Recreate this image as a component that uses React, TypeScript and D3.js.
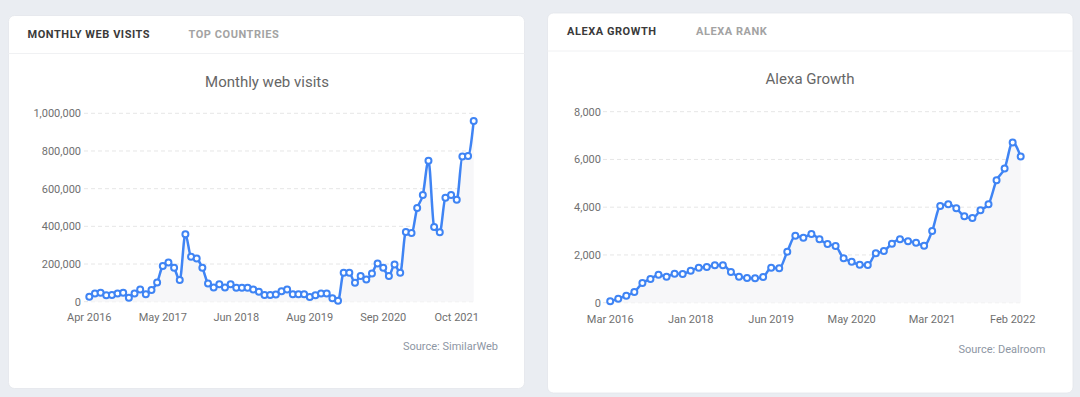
import React, { useEffect, useRef } from 'react';
import * as d3 from 'd3';

// Monthly web visits (SimilarWeb), one value per month from Apr 2016
const visits = [
  26000, 44000, 48000, 34000, 35000, 44000, 48000, 21000, 44000, 65000,
  39000, 62000, 102000, 190000, 208000, 180000, 115000, 358000, 238000, 229000,
  180000, 97000, 76000, 93000, 76000, 92000, 74000, 74000, 74000, 65000,
  53000, 35000, 35000, 38000, 56000, 65000, 39000, 39000, 39000, 25000,
  34000, 44000, 44000, 18000, 5000, 153000, 153000, 100000, 136000, 118000,
  150000, 203000, 180000, 136000, 198000, 153000, 370000, 365000, 497000, 566000,
  748000, 397000, 369000, 552000, 566000, 541000, 771000, 774000, 959000,
];
const visitTickLabels = ['Apr 2016', 'May 2017', 'Jun 2018', 'Aug 2019', 'Sep 2020', 'Oct 2021'];
const visitTickEvery = 13;
const visitYTicks = [0, 200000, 400000, 600000, 800000, 1000000];

// Alexa growth (Dealroom)
const alexa = [
  56, 168, 293, 447, 824, 992, 1173, 1090, 1215, 1201,
  1341, 1467, 1495, 1565, 1565, 1285, 1090, 1034, 1020, 1076,
  1467, 1439, 2137, 2808, 2724, 2878, 2654, 2459, 2375, 1858,
  1718, 1593, 1579, 2068, 2165, 2473, 2654, 2570, 2515, 2389,
  3004, 4051, 4121, 3954, 3618, 3548, 3870, 4121, 5127, 5616,
  6706, 6119,
];
const alexaTickLabels = ['Mar 2016', 'Jan 2018', 'Jun 2019', 'May 2020', 'Mar 2021', 'Feb 2022'];
const alexaTickEvery = 10;
const alexaYTicks = [0, 2000, 4000, 6000, 8000];

const FONT = 'Roboto, "Noto Sans", sans-serif';
const BLUE = '#3f84f4';

const cards = [
  {
    card: { x: 8.5, y: 15.5, w: 516, h: 373 },
    tabs: [
      { label: 'MONTHLY WEB VISITS', x: 27.5, active: true },
      { label: 'TOP COUNTRIES', x: 188.5, active: false },
    ],
    tabY: 34.5,
    sepY: 53.5,
    title: 'Monthly web visits',
    titleX: 267,
    titleY: 81.5,
    data: visits,
    tickLabels: visitTickLabels,
    tickEvery: visitTickEvery,
    yTicks: visitYTicks,
    plot: { x0: 89.3, x1: 473.7, y0: 301.7, y1: 113.3, gridX0: 84, labelX: 81, tickY: 317 },
    source: 'Source: SimilarWeb',
    sourceX: 498,
    sourceY: 346.5,
  },
  {
    card: { x: 547.5, y: 13, w: 525.5, h: 380 },
    tabs: [
      { label: 'ALEXA GROWTH', x: 567, active: true },
      { label: 'ALEXA RANK', x: 696, active: false },
    ],
    tabY: 31,
    sepY: 51,
    title: 'Alexa Growth',
    titleX: 810,
    titleY: 79,
    data: alexa,
    tickLabels: alexaTickLabels,
    tickEvery: alexaTickEvery,
    yTicks: alexaYTicks,
    plot: { x0: 610.2, x1: 1020.7, y0: 302.7, y1: 111.7, gridX0: 603, labelX: 601, tickY: 319.5 },
    source: 'Source: Dealroom',
    sourceX: 1045.5,
    sourceY: 349,
  },
];

const App = () => {
  const svgRef = useRef(null);

  useEffect(() => {
    document.body.style.margin = '0';
    const svg = d3.select(svgRef.current);
    svg.selectAll('*').remove();

    svg.append('rect')
      .attr('width', 1080)
      .attr('height', 397)
      .attr('fill', '#eaedf2');

    cards.forEach((c) => {
      const g = svg.append('g');
      const { card, plot } = c;

      // card
      g.append('rect')
        .attr('x', card.x)
        .attr('y', card.y)
        .attr('width', card.w)
        .attr('height', card.h)
        .attr('rx', 6)
        .attr('fill', '#fff')
        .attr('stroke', '#e3e6eb')
        .attr('stroke-width', 0.8);

      g.append('line')
        .attr('x1', card.x)
        .attr('x2', card.x + card.w)
        .attr('y1', c.sepY)
        .attr('y2', c.sepY)
        .attr('stroke', '#f0f1f3');

      // tabs
      g.selectAll('.tab')
        .data(c.tabs)
        .enter().append('text')
        .attr('x', d => d.x)
        .attr('y', c.tabY)
        .attr('dy', '0.35em')
        .attr('font-family', FONT)
        .attr('font-size', 11)
        .attr('font-weight', 700)
        .attr('letter-spacing', 0.55)
        .attr('fill', d => (d.active ? '#3a3a3a' : '#a3a3a3'))
        .text(d => d.label);

      g.append('text')
        .attr('x', c.titleX)
        .attr('y', c.titleY)
        .attr('dy', '0.35em')
        .attr('text-anchor', 'middle')
        .attr('font-family', FONT)
        .attr('font-size', 15)
        .attr('fill', '#666')
        .text(c.title);

      // Scales
      const xScale = d3.scaleLinear()
        .domain([0, c.data.length - 1])
        .range([plot.x0, plot.x1]);
      const yScale = d3.scaleLinear()
        .domain([0, c.yTicks[c.yTicks.length - 1]])
        .range([plot.y0, plot.y1]);

      // grid + y labels
      g.selectAll('.grid')
        .data(c.yTicks)
        .enter().append('line')
        .attr('x1', plot.gridX0)
        .attr('x2', plot.x1)
        .attr('y1', d => yScale(d))
        .attr('y2', d => yScale(d))
        .attr('stroke', '#e6e6e6')
        .attr('stroke-dasharray', '4,3');

      g.selectAll('.ylab')
        .data(c.yTicks)
        .enter().append('text')
        .attr('x', plot.labelX)
        .attr('y', d => yScale(d))
        .attr('dy', '0.35em')
        .attr('text-anchor', 'end')
        .attr('font-family', FONT)
        .attr('font-size', 11)
        .attr('fill', '#707070')
        .text(d => d3.format(',')(d));

      // x labels
      g.selectAll('.xlab')
        .data(c.tickLabels)
        .enter().append('text')
        .attr('x', (d, i) => xScale(i * c.tickEvery))
        .attr('y', plot.tickY)
        .attr('dy', '0.35em')
        .attr('text-anchor', 'middle')
        .attr('font-family', FONT)
        .attr('font-size', 11)
        .attr('fill', '#707070')
        .text(d => d);

      const area = d3.area()
        .x((d, i) => xScale(i))
        .y0(yScale(0))
        .y1(d => yScale(d))
        .curve(d3.curveMonotoneX);

      const line = d3.line()
        .x((d, i) => xScale(i))
        .y(d => yScale(d))
        .curve(d3.curveMonotoneX);

      g.append('path')
        .datum(c.data)
        .attr('fill', '#f7f7f9')
        .attr('d', area);

      g.append('path')
        .datum(c.data)
        .attr('fill', 'none')
        .attr('stroke', BLUE)
        .attr('stroke-width', 2.5)
        .attr('d', line);

      g.selectAll('.dot')
        .data(c.data)
        .enter().append('circle')
        .attr('cx', (d, i) => xScale(i))
        .attr('cy', d => yScale(d))
        .attr('r', 3)
        .attr('fill', '#fff')
        .attr('stroke', BLUE)
        .attr('stroke-width', 2);

      g.append('text')
        .attr('x', c.sourceX)
        .attr('y', c.sourceY)
        .attr('dy', '0.35em')
        .attr('text-anchor', 'end')
        .attr('font-family', FONT)
        .attr('font-size', 11)
        .attr('fill', '#8d96a3')
        .text(c.source);
    });
  }, []);

  return (
    <svg
      ref={svgRef}
      width={1080}
      height={397}
      style={{ position: 'absolute', left: 0, top: 0, display: 'block' }}
    ></svg>
  );
};

export default App;
